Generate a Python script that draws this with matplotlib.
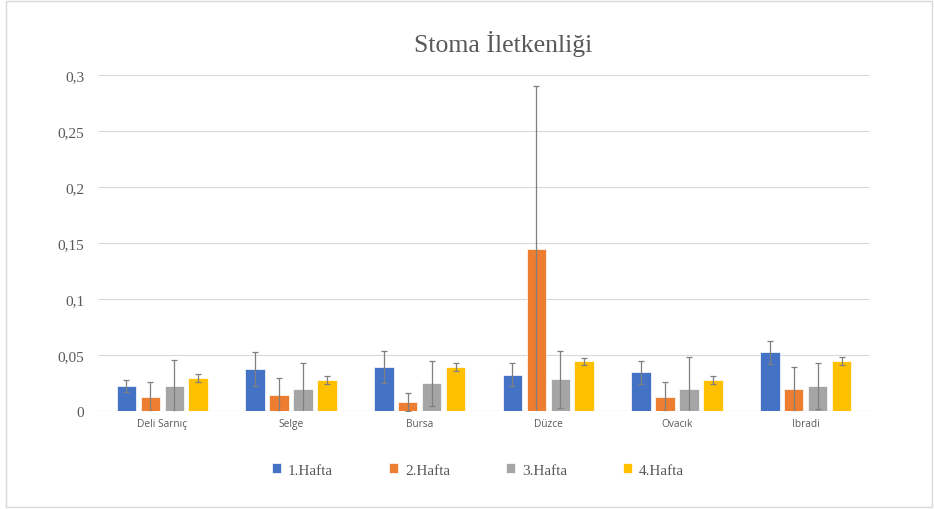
import matplotlib
matplotlib.use("Agg")
import matplotlib.pyplot as plt
import numpy as np
from matplotlib.patches import Rectangle

categories = ["Deli Sarnıç", "Selge", "Bursa", "Düzce", "Ovacık", "Ibradi"]
series = ["1.Hafta", "2.Hafta", "3.Hafta", "4.Hafta"]
hafta1 = [0.0223, 0.0372, 0.0393, 0.0324, 0.0345, 0.0524]
hafta2 = [0.0122, 0.0146, 0.0077, 0.1443, 0.0125, 0.0194]
hafta3 = [0.0225, 0.0194, 0.0247, 0.0283, 0.0194, 0.0223]
hafta4 = [0.0295, 0.0274, 0.0393, 0.0443, 0.0274, 0.0446]
err1 = [0.0052, 0.0152, 0.0143, 0.0102, 0.0101, 0.0101]
err2 = [0.0134, 0.0152, 0.0081, 0.1457, 0.0131, 0.0202]
err3 = [0.0233, 0.0232, 0.0199, 0.0253, 0.0291, 0.0206]
err4 = [0.0035, 0.0036, 0.0037, 0.0033, 0.0036, 0.0034]
yticks = [0, 0.05, 0.1, 0.15, 0.2, 0.25, 0.3]
ytick_labels = ["0", "0,05", "0,1", "0,15", "0,2", "0,25", "0,3"]
colors = ["#4472C4", "#ED7D31", "#A5A5A5", "#FFC000"]

values = [hafta1, hafta2, hafta3, hafta4]
errors = [err1, err2, err3, err4]

fig = plt.figure(figsize=(9.34, 5.10), dpi=100)
# outer frame
fig.patches.append(Rectangle((6/934, 2/510), 926/934, 506/510, transform=fig.transFigure,
                             fill=False, edgecolor="#D9D9D9", linewidth=1.0))

ax = fig.add_axes([98/934, 1 - 412/510, 772/934, 336/510])
x = np.arange(len(categories))
width = 0.152
step = 0.186
for i, (vals, errs) in enumerate(zip(values, errors)):
    offs = (i - 1.5) * step
    ax.bar(x + offs, vals, width, color=colors[i], edgecolor="white", linewidth=0.5,
           label=series[i], zorder=2)
    ax.errorbar(x + offs, vals, yerr=errs, fmt="none", ecolor="#7F7F7F",
                elinewidth=0.9, capsize=2.5, capthick=0.9, zorder=3)

ax.set_xlim(-0.5, len(categories) - 0.5)
ax.set_ylim(0, 0.3)
ax.set_yticks(yticks)
ax.set_yticklabels(ytick_labels, fontfamily="Liberation Serif", fontsize=11, color="#595959")
ax.set_xticks(x)
ax.set_xticklabels(categories, fontfamily="Open Sans", fontsize=7.3, color="#595959")
ax.tick_params(axis="y", length=0, pad=10)
ax.tick_params(axis="x", length=0, pad=5)
ax.grid(axis="y", color="#D9D9D9", linewidth=0.8, zorder=0)
ax.set_axisbelow(True)
for s in ax.spines.values():
    s.set_visible(False)
ax.axhline(0, color="#D9D9D9", linewidth=0.8, zorder=1)

fig.text(503/934, 1 - 44/510, "Stoma İletkenliği", ha="center", va="center",
         fontfamily="Liberation Serif", fontsize=18.5, color="#595959")

handles, labels = ax.get_legend_handles_labels()
leg = fig.legend(handles, labels, loc="center", bbox_to_anchor=(478/934, 1 - 471/510),
                 ncol=4, frameon=False, handlelength=0.6, handleheight=0.6,
                 handletextpad=0.45, columnspacing=3.65,
                 prop={"family": "Liberation Serif", "size": 11})
for t in leg.get_texts():
    t.set_color("#595959")

fig.savefig("out.png", dpi=100)
